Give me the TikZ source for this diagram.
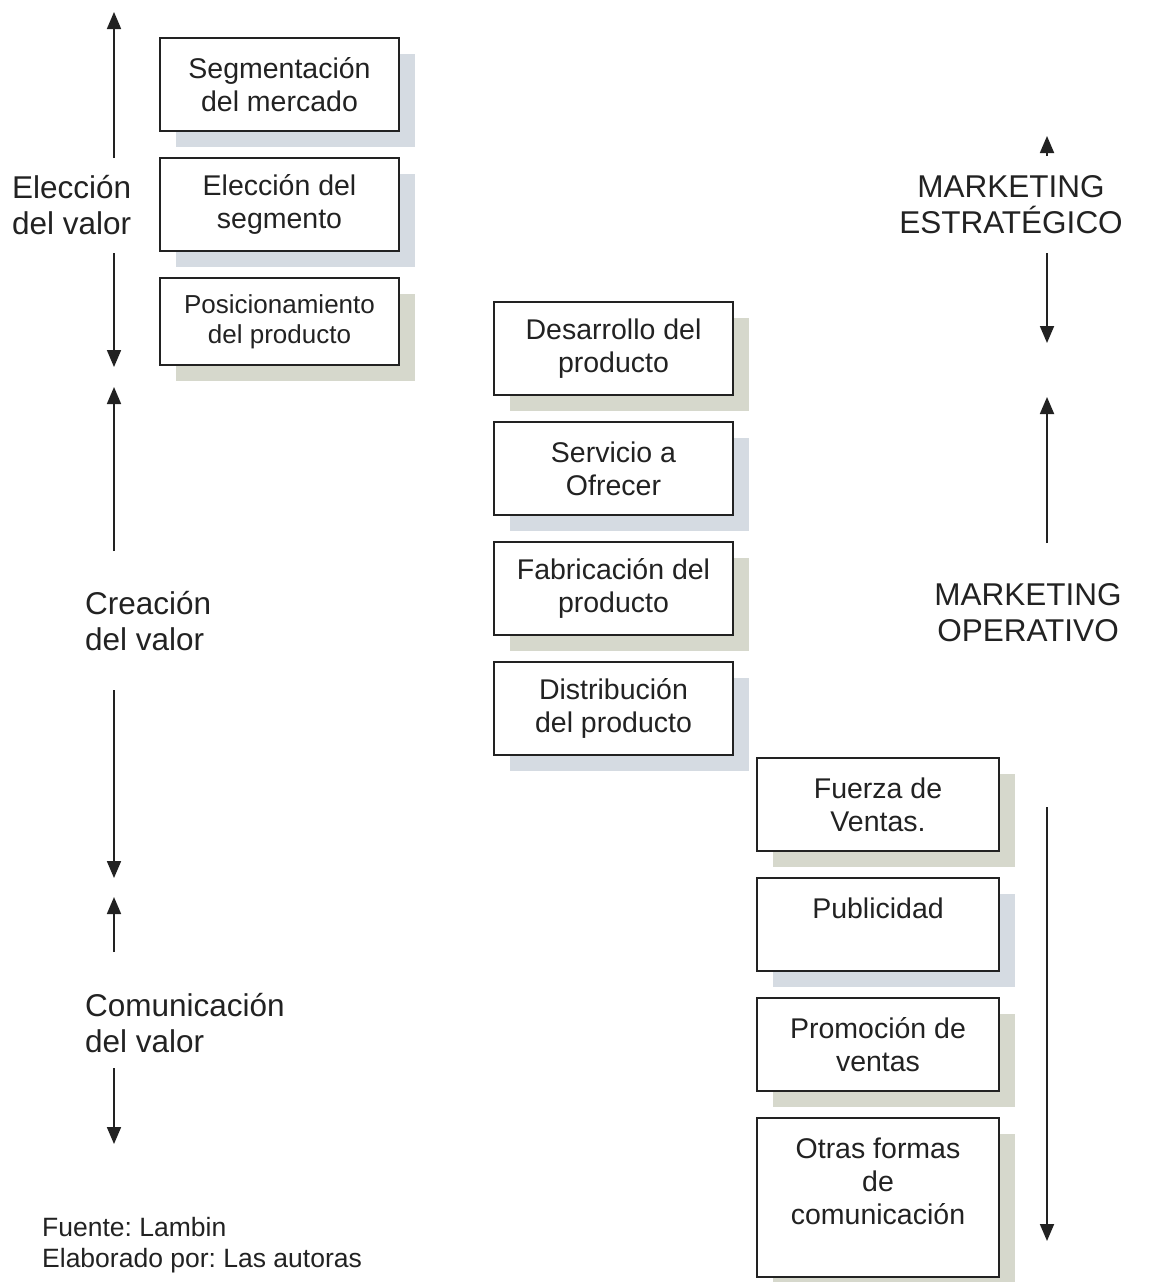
\documentclass[tikz,border=0pt]{standalone}
\usepackage{fontspec}
\setmainfont{Liberation Sans}
\usetikzlibrary{arrows.meta,shadows}
\definecolor{ink}{HTML}{222222}
\definecolor{shb}{HTML}{D5DBE2}
\definecolor{shg}{HTML}{D6D8CC}
\tikzset{
  box/.style={draw=ink, line width=1.8pt, fill=white, minimum width=239pt, minimum height=93pt,
    inner sep=0pt, align=center, text=ink, font=\fontsize{28.5}{33}\selectfont},
  sb/.style={drop shadow={shadow xshift=16pt, shadow yshift=-16pt, fill=shb, opacity=1}},
  sg/.style={drop shadow={shadow xshift=16pt, shadow yshift=-16pt, fill=shg, opacity=1}},
  lbl/.style={align=left, text=ink, inner sep=0pt, font=\fontsize{31.5}{35.5}\selectfont},
  mk/.style={align=center, text=ink, inner sep=0pt, font=\fontsize{31.5}{36}\selectfont},
  arr/.style={draw=ink, line width=1.8pt, -{Triangle[length=17pt,width=14pt]}},
}
\begin{document}
\frenchspacing
\begin{tikzpicture}[x=1pt,y=-1pt]
\useasboundingbox[fill=white] (0,0) rectangle (1153,1282);

% left column boxes
\node[box,sb] (seg) at (279.5,84.5) {Segmentación\\del mercado};
\node[box,sb] (eseg) at (279.5,204.5) {Elección del\\segmento};
\node[box,sg,minimum height=87pt,font=\fontsize{26}{30}\selectfont] (pos) at (279.5,321.5) {Posicionamiento\\del producto};

% middle column boxes
\node[box,sg] (des) at (613.5,348.5) {Desarrollo del\\producto};
\node[box,sb] (ser) at (613.5,468.5) {Servicio a\\Ofrecer};
\node[box,sg] (fab) at (613.5,588.5) {Fabricación del\\producto};
\node[box,sb] (dis) at (613.5,708.5) {Distribución\\del producto};

% right column boxes
\node[box,sg,minimum width=242pt] (fue) at (878,804.5) {Fuerza de\\Ventas.};
\node[box,sb,minimum width=242pt] (pub) at (878,924.5) {Publicidad\\\mbox{}};
\node[box,sg,minimum width=242pt] (pro) at (878,1044.5) {Promoción de\\ventas};
\node[box,sg,minimum width=242pt,minimum height=159pt] (otr) at (878,1197.5) {Otras formas\\de\\comunicación\\\mbox{}};

% left labels
\node[lbl,anchor=west] (elv) at (12,205) {Elección\\del valor};
\node[lbl,anchor=west] (crv) at (85,621) {Creación\\del valor};
\node[lbl,anchor=west] (cov) at (85,1023) {Comunicación\\del valor};

% right labels
\node[mk] (mes) at (1011,205) {MARKETING\\ESTRATÉGICO};
\node[mk] (mop) at (1028,613) {MARKETING\\OPERATIVO};

% footer
\node[anchor=west, align=left, text=ink, inner sep=0pt, font=\fontsize{26.5}{31}\selectfont] (src) at (42,1245) {Fuente: Lambin\\Elaborado por: Las autoras};

% arrow end coordinates
\coordinate (a1s) at (114,158); \coordinate (a1e) at (114,12);
\coordinate (a2s) at (114,253); \coordinate (a2e) at (114,367);
\coordinate (a3s) at (114,551); \coordinate (a3e) at (114,387);
\coordinate (a4s) at (114,690); \coordinate (a4e) at (114,878);
\coordinate (a5s) at (114,952); \coordinate (a5e) at (114,897);
\coordinate (a6s) at (114,1068); \coordinate (a6e) at (114,1144);
\coordinate (b1s) at (1047,156); \coordinate (b1e) at (1047,136);
\coordinate (b2s) at (1047,253); \coordinate (b2e) at (1047,343);
\coordinate (b3s) at (1047,543); \coordinate (b3e) at (1047,397);
\coordinate (b4s) at (1047,807); \coordinate (b4e) at (1047,1241);

\foreach \p in {a1,a2,a3,a4,a5,a6,b1,b2,b3,b4}
  \draw[arr] (\p s) -- (\p e);
\end{tikzpicture}
\end{document}
